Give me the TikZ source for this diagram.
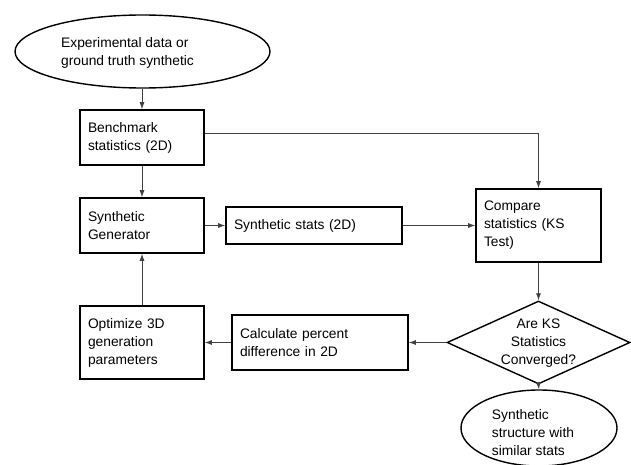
\documentclass[tikz,border=0pt]{standalone}
\usepackage{fontspec}
\setmainfont{Liberation Sans}
\usetikzlibrary{shapes.geometric,arrows.meta}
\begin{document}
\begin{tikzpicture}[x=1pt,y=-1pt,
  every node/.style={font=\fontsize{13.8pt}{18pt}\selectfont},
  box/.style={draw=black, line width=1.6pt, rectangle, inner xsep=8pt, inner ysep=0pt, align=left},
  oval/.style={draw=black, line width=1.4pt, ellipse, inner sep=0pt},
  decision/.style={draw=black, line width=1.4pt, diamond, inner sep=0pt},
  conn/.style={draw=black!75, line width=0.8pt, -{Latex[length=7pt,width=5pt]}}
]
\useasboundingbox (0,0) rectangle (631,465);

\node[oval, minimum width=255pt, minimum height=73pt,
  label={[align=left, xshift=-15pt, yshift=-1pt, font=\fontsize{13.8pt}{18pt}\selectfont]center:Experimental data or\\ground truth synthetic}]
  (src) at (142.5,51.5) {};

\node[box, minimum width=124pt, minimum height=55pt, text width=108pt] (bench) at (142,137.5) {Benchmark\\statistics (2D)};
\node[box, minimum width=124pt, minimum height=55pt, text width=108pt] (gen) at (142,225.5) {Synthetic\\Generator};
\node[box, minimum width=176pt, minimum height=37pt, text width=160pt] (stats) at (314,225.5) {Synthetic stats (2D)};
\node[box, minimum width=125pt, minimum height=73pt, text width=109pt] (comp) at (538.5,225.5) {Compare\\statistics (KS\\Test)};
\node[box, minimum width=124pt, minimum height=73pt, text width=108pt] (opt) at (142,342.5) {Optimize 3D\\generation\\parameters};
\node[box, minimum width=176pt, minimum height=55pt, text width=160pt] (calc) at (320,342.5) {Calculate percent\\difference in 2D};

\node[decision, minimum width=183pt, minimum height=83pt,
  label={[align=center, yshift=-1pt, font=\fontsize{13.8pt}{18pt}\selectfont]center:Are KS\\Statistics\\Converged?}]
  (conv) at (538.5,342.5) {};

\node[oval, minimum width=156pt, minimum height=76pt,
  label={[align=left, xshift=-6pt, yshift=-5pt, font=\fontsize{13.8pt}{18pt}\selectfont]center:Synthetic\\structure with\\similar stats}]
  (res) at (539,428) {};

\draw[conn] (bench.north |- src.south) -- (bench.north);
\draw[conn] (bench.south) -- (gen.north);
\draw[conn] ([yshift=4.5pt]bench.east) -| (comp.north);
\draw[conn] (gen.east) -- (stats.west);
\draw[conn] (stats.east) -- (comp.west);
\draw[conn] (comp.south) -- (conv.north);
\draw[conn] (conv.west) -- (calc.east);
\draw[conn] (calc.west) -- (opt.east);
\draw[conn] (opt.north) -- (gen.south);
\draw[conn] (conv.south) -- (res.north);
\end{tikzpicture}
\end{document}
